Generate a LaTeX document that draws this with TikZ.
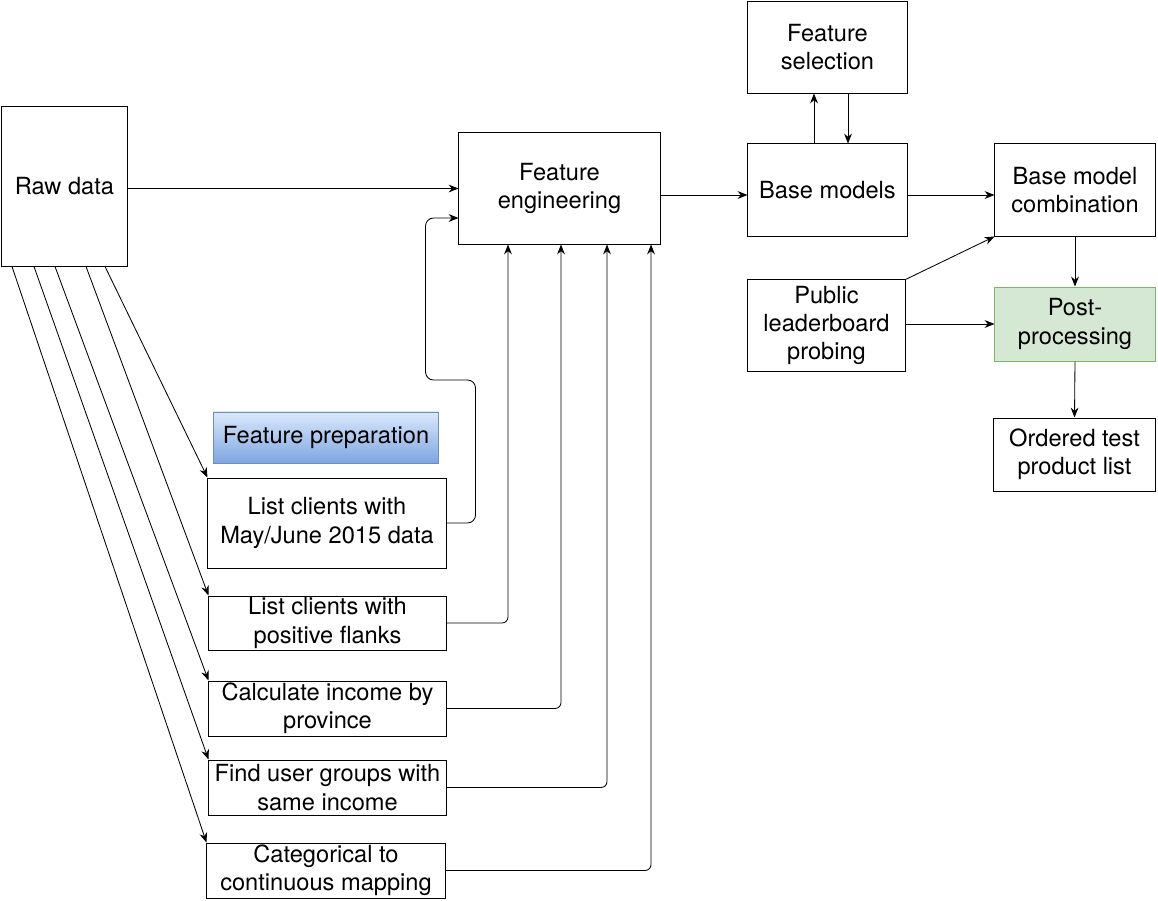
\documentclass[tikz,border=0pt]{standalone}
\usepackage{fontspec}
\setmainfont{TeX Gyre Heros}
\usetikzlibrary{arrows.meta, calc, positioning}
\definecolor{preptop}{HTML}{DAE8FC}
\definecolor{prepbot}{HTML}{7EA6E0}
\definecolor{prepline}{HTML}{6C8EBF}
\definecolor{postfill}{HTML}{D5E8D4}
\definecolor{postline}{HTML}{82B366}

\begin{document}
\begin{tikzpicture}[x=0.025cm, y=-0.025cm, align=center, font=\fontsize{16.8}{20}\selectfont]
\tikzstyle{block}=[rectangle, draw=black, line width=0.7pt, inner sep=0pt]
\tikzstyle{arr}=[-{Stealth[length=7pt,width=5.5pt]}, line width=0.6pt]
\useasboundingbox (0,0) rectangle (1158,901);

% main pipeline
\node[block, minimum width=3.125cm, minimum height=3.975cm] (raw) at (64.5,186.5) {Raw data};
\node[block, minimum width=5.025cm, minimum height=2.775cm] (feng) at (559.5,188.5) {Feature\\engineering};
\node[block, minimum width=3.975cm, minimum height=2.275cm] (fsel) at (827.5,47.5) {Feature\\selection};
\node[block, minimum width=3.975cm, minimum height=2.3cm] (base) at (827.5,190) {Base models};
\node[block, minimum width=4cm, minimum height=2.3cm] (comb) at (1075,190) {Base model\\combination};
\node[block, minimum width=3.925cm, minimum height=2.275cm] (probe) at (826.5,325.5) {Public\\leaderboard\\probing};
\node[block, draw=postline, fill=postfill, minimum width=4cm, minimum height=1.85cm] (post) at (1075,324) {Post-\\processing};
\node[block, minimum width=4.025cm, minimum height=1.825cm] (order) at (1074.5,454.5) {Ordered test\\product list};

% feature preparation
\node[block, draw=prepline, top color=preptop, bottom color=prepbot, minimum width=5.6cm, minimum height=1.275cm] (prep) at (326,437.5) {Feature preparation};
\node[block, minimum width=5.95cm, minimum height=2.25cm] (may) at (327,523) {List clients with\\May/June 2015 data};
\node[block, minimum width=5.925cm, minimum height=1.35cm] (flank) at (327.5,623) {List clients with\\positive flanks};
\node[block, minimum width=5.925cm, minimum height=1.375cm] (income) at (327.5,708.5) {Calculate income by\\province};
\node[block, minimum width=5.925cm, minimum height=1.375cm] (groups) at (327.5,787.5) {Find user groups with\\same income};
\node[block, minimum width=5.95cm, minimum height=1.375cm] (categ) at (326,870.5) {Categorical to\\continuous mapping};

\draw[arr] (raw.east |- feng.west) -- (feng.west);
\draw[arr] ([yshift=-0.125cm]feng.east |- base.west) -- ([yshift=-0.125cm]base.west);
\draw[arr] ([xshift=-0.3375cm]base.north) -- ([xshift=-0.3375cm]fsel.south);
\draw[arr] ([xshift=0.5125cm]fsel.south) -- ([xshift=0.5125cm]base.north);
\draw[arr] ([yshift=-0.125cm]base.east) -- ([yshift=-0.125cm]comb.west);
\draw[arr] (probe.north east) -- (comb.south west);
\draw[arr] (probe.east |- post.west) -- (post.west);
\draw[arr] (comb.south) -- (post.north);
\draw[arr] (post.south) -- (order.north);

% fan out of the raw data
\foreach \dx/\target in {1.0125/may, 0.5375/flank, -0.2375/income, -0.7625/groups, -1.3125/categ}
  \draw[arr] ([xshift=\dx cm]raw.south) -- (\target.north west);

% back into feature engineering
\draw[arr, rounded corners=0.2cm] (may.east) -- ++(29,0) -- ++(0,-143) -- ++(-50,0) |- ([yshift=-0.7375cm]feng.west);
\draw[arr, rounded corners=0.15cm] (flank.east) -| ([xshift=-1.2875cm]feng.south);
\draw[arr, rounded corners=0.15cm] (income.east) -| ([xshift=0.0375cm]feng.south);
\draw[arr, rounded corners=0.15cm] (groups.east) -| ([xshift=1.1875cm]feng.south);
\draw[arr, rounded corners=0.15cm] (categ.east) -| ([xshift=2.2875cm]feng.south);
\end{tikzpicture}
\end{document}
